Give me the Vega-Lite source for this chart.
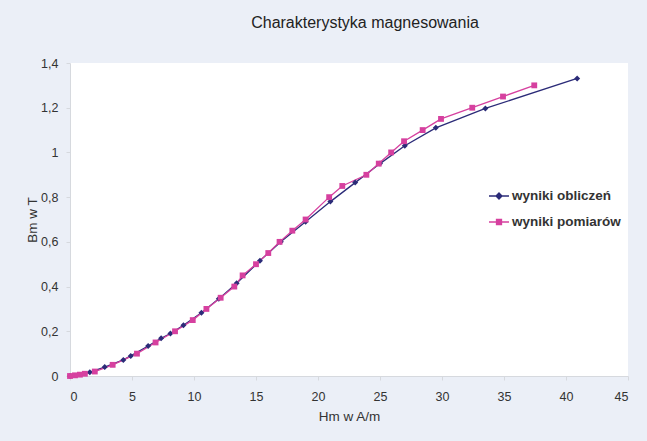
{
  "$schema": "https://vega.github.io/schema/vega-lite/v6.json",
  "autosize": {"type": "none"},
  "width": 558,
  "height": 313,
  "padding": {"left": 70, "top": 63, "right": 19, "bottom": 65},
  "background": "#ebeff7",
  "title": {"text": "Charakterystyka magnesowania", "font": "Liberation Sans", "fontSize": 16, "fontWeight": "normal", "color": "#222222", "offset": 26, "dx": 16},
  "config": {
    "view": {"fill": "white", "stroke": null},
    "axis": {"labelFont": "Liberation Sans", "titleFont": "Liberation Sans", "labelFontSize": 12.5, "titleFontSize": 13.5, "titleFontWeight": "normal", "labelColor": "#333333", "titleColor": "#333333", "domainColor": "#d6d9de", "tickColor": "#d6d9de", "grid": false, "tickSize": 4}
  },
  "data": {"values": [
    {"series": "wyniki obliczeń", "H": 0, "B": 0},
    {"series": "wyniki obliczeń", "H": 1.6, "B": 0.017},
    {"series": "wyniki obliczeń", "H": 2.8, "B": 0.04},
    {"series": "wyniki obliczeń", "H": 4.3, "B": 0.072},
    {"series": "wyniki obliczeń", "H": 4.9, "B": 0.09},
    {"series": "wyniki obliczeń", "H": 6.3, "B": 0.134},
    {"series": "wyniki obliczeń", "H": 7.35, "B": 0.169},
    {"series": "wyniki obliczeń", "H": 8.1, "B": 0.19},
    {"series": "wyniki obliczeń", "H": 9.15, "B": 0.227},
    {"series": "wyniki obliczeń", "H": 10.6, "B": 0.283},
    {"series": "wyniki obliczeń", "H": 12.0, "B": 0.345},
    {"series": "wyniki obliczeń", "H": 13.44, "B": 0.415},
    {"series": "wyniki obliczeń", "H": 15.32, "B": 0.516},
    {"series": "wyniki obliczeń", "H": 17.0, "B": 0.6},
    {"series": "wyniki obliczeń", "H": 19.0, "B": 0.69},
    {"series": "wyniki obliczeń", "H": 21.0, "B": 0.78},
    {"series": "wyniki obliczeń", "H": 23.0, "B": 0.865},
    {"series": "wyniki obliczeń", "H": 25.0, "B": 0.95},
    {"series": "wyniki obliczeń", "H": 27.0, "B": 1.03},
    {"series": "wyniki obliczeń", "H": 29.5, "B": 1.11},
    {"series": "wyniki obliczeń", "H": 33.5, "B": 1.197},
    {"series": "wyniki obliczeń", "H": 40.9, "B": 1.331},
    {"series": "wyniki pomiarów", "H": 0, "B": 0},
    {"series": "wyniki pomiarów", "H": 0.4, "B": 0.003},
    {"series": "wyniki pomiarów", "H": 0.8, "B": 0.006},
    {"series": "wyniki pomiarów", "H": 1.2, "B": 0.01},
    {"series": "wyniki pomiarów", "H": 2.0, "B": 0.02},
    {"series": "wyniki pomiarów", "H": 3.44, "B": 0.05},
    {"series": "wyniki pomiarów", "H": 5.4, "B": 0.1},
    {"series": "wyniki pomiarów", "H": 6.9, "B": 0.15},
    {"series": "wyniki pomiarów", "H": 8.47, "B": 0.2},
    {"series": "wyniki pomiarów", "H": 9.9, "B": 0.25},
    {"series": "wyniki pomiarów", "H": 11.0, "B": 0.3},
    {"series": "wyniki pomiarów", "H": 12.15, "B": 0.35},
    {"series": "wyniki pomiarów", "H": 13.25, "B": 0.4},
    {"series": "wyniki pomiarów", "H": 13.92, "B": 0.45},
    {"series": "wyniki pomiarów", "H": 15.0, "B": 0.5},
    {"series": "wyniki pomiarów", "H": 15.99, "B": 0.55},
    {"series": "wyniki pomiarów", "H": 16.9, "B": 0.6},
    {"series": "wyniki pomiarów", "H": 17.93, "B": 0.65},
    {"series": "wyniki pomiarów", "H": 19.0, "B": 0.7},
    {"series": "wyniki pomiarów", "H": 20.9, "B": 0.8},
    {"series": "wyniki pomiarów", "H": 21.96, "B": 0.85},
    {"series": "wyniki pomiarów", "H": 23.9, "B": 0.9},
    {"series": "wyniki pomiarów", "H": 24.9, "B": 0.95},
    {"series": "wyniki pomiarów", "H": 25.9, "B": 1.0},
    {"series": "wyniki pomiarów", "H": 26.94, "B": 1.05},
    {"series": "wyniki pomiarów", "H": 28.44, "B": 1.1},
    {"series": "wyniki pomiarów", "H": 29.92, "B": 1.15},
    {"series": "wyniki pomiarów", "H": 32.44, "B": 1.2},
    {"series": "wyniki pomiarów", "H": 34.92, "B": 1.25},
    {"series": "wyniki pomiarów", "H": 37.44, "B": 1.3}
  ]},
  "encoding": {
    "x": {"field": "H", "type": "quantitative", "scale": {"domain": [0, 45], "nice": false, "zero": true},
          "axis": {"title": "Hm w A/m", "values": [0,5,10,15,20,25,30,35,40,45], "labelPadding": 10, "titlePadding": 7}},
    "y": {"field": "B", "type": "quantitative", "scale": {"domain": [0, 1.4], "nice": false},
          "axis": {"title": "Bm w T", "values": [0,0.2,0.4,0.6,0.8,1,1.2,1.4], "labelExpr": "replace(format(datum.value, '.1~f'), '.', ',')", "labelPadding": 8, "titleX": -38, "titleBaseline": "middle"}},
    "color": {"field": "series", "type": "nominal",
              "scale": {"domain": ["wyniki obliczeń", "wyniki pomiarów"], "range": ["#2b2b78", "#d6409f"]},
              "legend": {"title": null, "orient": "none", "legendX": 418, "legendY": 122,
                         "labelFont": "Liberation Sans", "labelFontSize": 13.5, "labelFontWeight": "bold", "labelColor": "#333333",
                         "symbolSize": 400, "symbolStrokeWidth": 1.3, "labelOffset": 2, "rowPadding": 8,
                         "symbolType": "M-1,0L1,0M0,-0.3L0.3,0L0,0.3L-0.3,0Z",
                         "encode": {"symbols": {"update": {
                           "shape": {"signal": "datum.label === 'wyniki obliczeń' ? 'M-1,0L1,0M0,-0.3L0.3,0L0,0.3L-0.3,0Z' : 'M-1,0L1,0M-0.25,-0.25L0.25,-0.25L0.25,0.25L-0.25,0.25Z'"},
                           "fillOpacity": {"value": 1}
                         }}}}}
  },
  "layer": [
    {"mark": {"type": "line", "strokeWidth": 1.3}, "encoding": {"detail": {"field": "series"}}},
    {"transform": [{"filter": "datum.series === 'wyniki obliczeń'"}],
     "mark": {"type": "point", "filled": true, "opacity": 1, "shape": "diamond", "size": 36}},
    {"transform": [{"filter": "datum.series === 'wyniki pomiarów'"}],
     "mark": {"type": "point", "filled": true, "opacity": 1, "shape": "square", "size": 34}}
  ]
}
